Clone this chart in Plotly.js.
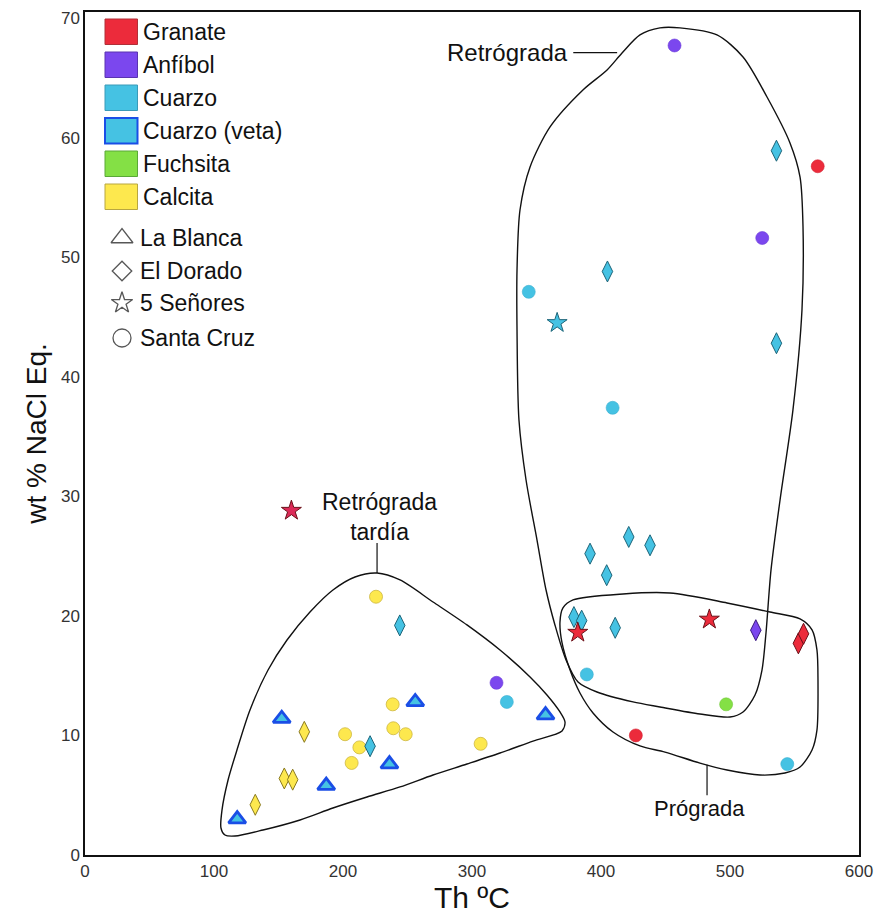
<!DOCTYPE html>
<html><head><meta charset="utf-8">
<script src="https://cdn.plot.ly/plotly-3.0.1.min.js"></script>
<style>body{margin:0;background:#fff}#chart{width:875px;height:917px}</style>
</head><body><div id="chart"></div>
<script>
// ---- data (Th °C, wt % NaCl eq.) ----
const granateCircleX = [568, 427];
const granateCircleY = [57.6, 10.0];
const granateStarX = [382, 484, 160];
const granateStarY = [18.6, 19.7, 28.8];
const granateDiamondX = [553, 557];
const granateDiamondY = [17.7, 18.5];

const anfibolCircleX = [457, 525, 319];
const anfibolCircleY = [67.7, 51.6, 14.4];
const anfibolDiamondX = [520];
const anfibolDiamondY = [18.8];

const cuarzoDiamondX = [536, 405, 536, 421.5, 438, 391.5, 404.4, 379, 385, 411, 244, 221];
const cuarzoDiamondY = [58.9, 48.8, 42.8, 26.6, 25.9, 25.2, 23.4, 19.9, 19.6, 19.0, 19.2, 9.1];
const cuarzoCircleX = [344, 409, 389, 544.4, 327];
const cuarzoCircleY = [47.1, 37.4, 15.1, 7.6, 12.8];
const cuarzoStarX = [366];
const cuarzoStarY = [44.5];

const vetaTriangleX = [118, 152.5, 187, 236, 256, 357];
const vetaTriangleY = [3.0, 11.4, 5.8, 7.6, 12.8, 11.7];

const fuchsitaCircleX = [497];
const fuchsitaCircleY = [12.6];

const calcitaCircleX = [225.6, 238.5, 201.6, 239, 248.6, 212.7, 206.7, 306.7];
const calcitaCircleY = [21.6, 12.6, 10.1, 10.6, 10.1, 9.0, 7.7, 9.3];
const calcitaDiamondX = [170, 154.5, 161, 132];
const calcitaDiamondY = [10.3, 6.4, 6.3, 4.2];

// field outlines (data units)
const retrogradaX = [461.2,489.9,510.1,528.7,546.5,554.3,556.6,555.8,548.8,538.8,531.8,527.9,524.8,519.4,510.1,500.0,476.7,445.7,424.8,396.9,382.2,372.9,364.3,357.4,350.4,341.9,336.4,334.9,334.9,337.2,345.0,360.5,386.0,404.7,416.3,430.2,445.7,461.2];
const retrogradaY = [69.17,68.58,66.74,63.39,59.55,56.70,52.52,45.58,37.22,29.69,23.84,18.57,15.47,13.38,11.96,11.54,11.79,12.38,12.80,13.63,14.47,16.31,19.24,22.16,26.34,31.36,36.38,43.91,48.93,53.94,57.54,60.89,63.98,65.65,67.07,68.58,69.17,69.17];
const progradaX = [378.3,417.1,453.5,497.7,531.0,554.3,563.6,567.4,568.2,567.4,563.6,554.3,542.6,523.3,497.7,476.7,449.6,430.2,409.3,393.8,383.7,376.0,369.8,368.2,370.5,378.3];
const progradaY = [21.33,21.83,21.91,21.08,20.32,19.74,18.82,17.15,14.64,10.45,8.78,7.36,6.86,6.69,7.11,7.69,8.61,9.12,10.29,11.88,13.55,15.47,17.73,19.49,20.66,21.33];
const tardiaX = [226.4,244.2,269.8,296.1,321.7,345.0,358.1,368.2,372.1,369.8,347.3,321.7,296.1,269.8,244.2,218.6,192.2,166.7,138.0,116.3,108.5,105.4,106.2,110.9,117.8,127.9,141.9,156.6,174.4,192.2,209.3,226.4];
const tardiaY = [23.58,23.00,21.16,19.24,17.14,14.89,13.38,11.96,11.12,10.37,9.53,8.53,7.61,6.69,5.69,4.85,3.93,2.93,2.09,1.59,1.67,2.26,3.76,6.27,8.78,12.13,15.47,17.98,20.32,22.16,23.25,23.58];

const xTicks = [0, 100, 200, 300, 400, 500, 600];
const yTicks = [0, 10, 20, 30, 40, 50, 60, 70];

const mineralNames = ['Granate', 'Anfíbol', 'Cuarzo', 'Cuarzo (veta)', 'Fuchsita', 'Calcita'];
const localityNames = ['La Blanca', 'El Dorado', '5 Señores', 'Santa Cruz'];

// ---- styles ----
const C = {
  granate: '#ec2b3b', anfibol: '#7b47ee', cuarzo: '#45c2e3', veta: '#45c2e3',
  fuchsita: '#84e045', calcita: '#fde84e'
};
const FONT = 'Liberation Sans, Arial, sans-serif';

function outline(x, y) {
  return {x, y, type: 'scatter', mode: 'lines', hoverinfo: 'skip', showlegend: false,
    line: {color: '#111', width: 1.4, shape: 'spline', smoothing: 0.8}};
}
function pts(x, y, symbol, size, color, lc, lw) {
  return {x, y, type: 'scatter', mode: 'markers', showlegend: false,
    marker: {symbol, size, color, line: {color: lc, width: lw}}};
}

const traces = [
  outline(retrogradaX, retrogradaY),
  outline(progradaX, progradaY),
  outline(tardiaX, tardiaY),
  // leader lines
  {x: [378.5, 412.5], y: [67.1, 67.1], type: 'scatter', mode: 'lines', hoverinfo: 'skip', showlegend: false, line: {color: '#111', width: 1.2}},
  {x: [226.4, 226.4], y: [26.1, 23.58], type: 'scatter', mode: 'lines', hoverinfo: 'skip', showlegend: false, line: {color: '#111', width: 1.2}},
  {x: [482.2, 482.2], y: [7.55, 5.0], type: 'scatter', mode: 'lines', hoverinfo: 'skip', showlegend: false, line: {color: '#111', width: 1.2}},

  pts(calcitaCircleX, calcitaCircleY, 'circle', 13, C.calcita, '#cdb640', 0.8),
  pts(calcitaDiamondX, calcitaDiamondY, 'diamond-tall', 15, C.calcita, '#8a7a20', 1),
  pts(vetaTriangleX, vetaTriangleY, 'triangle-up', 15, C.veta, '#1a4ee6', 2.8),
  pts(cuarzoCircleX, cuarzoCircleY, 'circle', 13, C.cuarzo, '#3aaed0', 0.6),
  pts(cuarzoDiamondX, cuarzoDiamondY, 'diamond-tall', 15, C.cuarzo, '#1d6478', 1),
  pts(cuarzoStarX, cuarzoStarY, 'star', 15, C.cuarzo, '#1d6478', 1),
  pts(fuchsitaCircleX, fuchsitaCircleY, 'circle', 13, C.fuchsita, '#72c83a', 0.6),
  pts(anfibolCircleX, anfibolCircleY, 'circle', 13, C.anfibol, '#6a3ad8', 0.6),
  pts(anfibolDiamondX, anfibolDiamondY, 'diamond-tall', 15, C.anfibol, '#3a1a80', 1),
  pts(granateCircleX, granateCircleY, 'circle', 13, C.granate, '#d42030', 0.6),
  pts(granateStarX, granateStarY, 'star', 15, [C.granate, C.granate, '#dc2a58'], '#6a1018', 1),
  pts(granateDiamondX, granateDiamondY, 'diamond-tall', 15, C.granate, '#6a1018', 1),
];

// legend glyphs for localities, on a pixel-like overlay axis
const legSymbols = ['triangle-up', 'diamond', 'star', 'circle'];
const legSizes = [19, 15, 16, 18];
const legY = [226, 259, 291, 326];
traces.push({
  x: legSymbols.map(() => 37), y: legY, xaxis: 'x2', yaxis: 'y2', type: 'scatter', mode: 'markers',
  hoverinfo: 'skip', showlegend: false,
  marker: {symbol: legSymbols, size: legSizes, color: '#fff', line: {color: '#111', width: 1.3}}
});

const swatchColors = [C.granate, C.anfibol, C.cuarzo, C.veta, C.fuchsita, C.calcita];
const swatchBorders = ['#b03038', '#5a34b0', '#3a9ab8', '#1a4ee6', '#5aa838', '#b8a640'];
const shapes = [];
const annotations = [];
mineralNames.forEach((name, i) => {
  const y0 = 7 + i * 33;
  shapes.push({type: 'rect', xref: 'x2', yref: 'y2', x0: 20, x1: 52.5, y0: y0, y1: y0 + 25.5,
    fillcolor: swatchColors[i], line: {color: swatchBorders[i], width: i === 3 ? 2 : 1}, layer: 'above'});
  annotations.push({xref: 'x2', yref: 'y2', x: 56, y: y0 + 13, text: name, showarrow: false,
    xanchor: 'left', yanchor: 'middle', font: {family: FONT, size: 23, color: '#111'}});
});
localityNames.forEach((name, i) => {
  annotations.push({xref: 'x2', yref: 'y2', x: 53, y: legY[i], text: name, showarrow: false,
    xanchor: 'left', yanchor: 'middle', font: {family: FONT, size: 23, color: '#111'}});
});
// field labels
annotations.push({x: 376, y: 67.15, text: 'Retrógrada', showarrow: false, xanchor: 'right', yanchor: 'middle',
  font: {family: FONT, size: 24, color: '#111'}});
annotations.push({x: 228.5, y: 28.3, text: 'Retrógrada<br>tardía', showarrow: false, xanchor: 'center', yanchor: 'middle',
  font: {family: FONT, size: 23, color: '#111'}});
annotations.push({x: 476.7, y: 3.9, text: 'Prógrada', showarrow: false, xanchor: 'center', yanchor: 'middle',
  font: {family: FONT, size: 22, color: '#111'}});

const layout = {
  width: 875, height: 917,
  margin: {l: 85, r: 16, t: 12, b: 62},
  paper_bgcolor: '#fff', plot_bgcolor: '#fff',
  showlegend: false,
  xaxis: {range: [0, 600], tickvals: xTicks, ticktext: xTicks.map(String), showgrid: false, zeroline: false,
    showline: true, mirror: true, linecolor: '#111', linewidth: 1.6, ticks: '',
    tickfont: {family: FONT, size: 17, color: '#333'},
    title: {text: 'Th ºC', font: {family: FONT, size: 30, color: '#111'}, standoff: 6}},
  yaxis: {range: [0, 70.5], tickvals: yTicks, ticktext: yTicks.map(String), showgrid: false, zeroline: false,
    showline: true, mirror: true, linecolor: '#111', linewidth: 1.6, ticks: '',
    tickfont: {family: FONT, size: 17, color: '#333'},
    title: {text: 'wt % NaCl Eq.', font: {family: FONT, size: 28, color: '#111'}, standoff: 6}},
  xaxis2: {overlaying: 'x', range: [0, 774], visible: false, fixedrange: true},
  yaxis2: {overlaying: 'y', range: [843, 0], visible: false, fixedrange: true},
  shapes, annotations
};

Plotly.newPlot('chart', traces, layout, {displayModeBar: false, staticPlot: true});
</script>
</body></html>
